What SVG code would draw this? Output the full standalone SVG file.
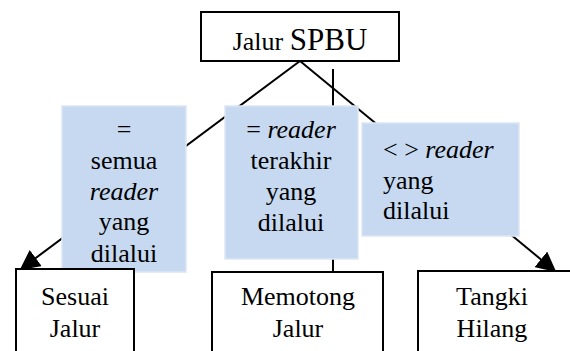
<svg xmlns="http://www.w3.org/2000/svg" width="570" height="351" viewBox="0 0 570 351">
<style>
.box{fill:#fff;stroke:#000;stroke-width:2}
.lbl{fill:#c6d9f1;stroke:#dde6f2;stroke-width:1.5}
.t{font-family:"Times New Roman","Liberation Serif",serif;font-size:26px;fill:#000}
.c{text-anchor:middle}
.i{font-style:italic}
.ln{stroke:#000;stroke-width:2;fill:none}
</style>
<defs>
<marker id="ah2" viewBox="0 0 12 12" refX="11" refY="6" markerWidth="20" markerHeight="20" orient="auto" markerUnits="userSpaceOnUse">
<path d="M0,0 L12,6 L0,12 z" fill="#000"/>
</marker>
</defs>
<g id="connectors">
<line class="ln" x1="300" y1="61" x2="21" y2="269" marker-end="url(#ah2)"/>
<line class="ln" x1="300" y1="61" x2="555" y2="271" marker-end="url(#ah2)"/>
<line class="ln" x1="333" y1="69" x2="333" y2="272"/>
</g>
<g id="jalur-spbu">
<rect class="box" x="201" y="12" width="198" height="49"/>
<text x="300" y="50" class="t c">Jalur <tspan font-size="31">SPBU</tspan></text>
</g>
<g id="label-sesuai">
<rect class="lbl" x="62" y="106" width="124" height="166"/>
<text class="t c" x="124" y="138">=</text>
<text class="t c" x="124" y="169">semua</text>
<text class="t c i" x="124" y="200">reader</text>
<text class="t c" x="124" y="230">yang</text>
<text class="t c" x="124" y="262">dilalui</text>
</g>
<g id="label-memotong">
<rect class="lbl" x="225" y="106" width="133" height="153"/>
<text class="t c" x="291" y="138">= <tspan class="i">reader</tspan></text>
<text class="t c" x="291" y="169">terakhir</text>
<text class="t c" x="291" y="200">yang</text>
<text class="t c" x="291" y="231">dilalui</text>
</g>
<g id="label-tangki">
<rect class="lbl" x="362" y="123" width="157" height="113"/>
<text class="t" x="383" y="158">&lt; &gt; <tspan class="i">reader</tspan></text>
<text class="t" x="383" y="189">yang</text>
<text class="t" x="383" y="219">dilalui</text>
</g>
<g id="sesuai-jalur">
<rect class="box" x="16" y="269" width="118" height="100"/>
<text class="t c" x="75" y="305">Sesuai</text>
<text class="t c" x="75" y="337">Jalur</text>
</g>
<g id="memotong-jalur">
<rect class="box" x="212" y="272" width="171" height="100"/>
<text class="t c" x="298" y="305">Memotong</text>
<text class="t c" x="298" y="337">Jalur</text>
</g>
<g id="tangki-hilang">
<rect class="box" x="418" y="271" width="170" height="100"/>
<text class="t c" x="492" y="305">Tangki</text>
<text class="t c" x="492" y="337">Hilang</text>
</g>
</svg>
